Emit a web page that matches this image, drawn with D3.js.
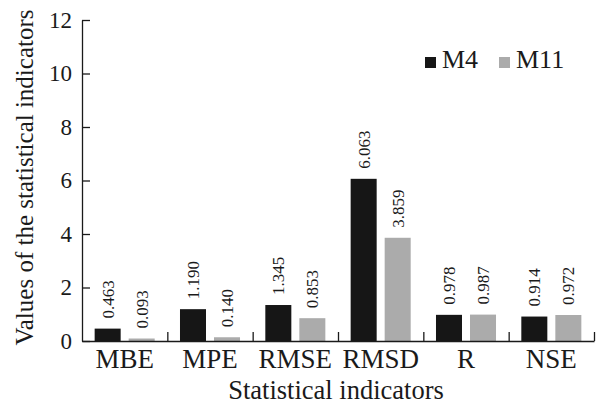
<!DOCTYPE html>
<html>
<head>
<meta charset="utf-8">
<script src="https://cdn.jsdelivr.net/npm/d3@7"></script>
</head>
<body style="margin:0;padding:0;background:#fff">
<svg id="chart" width="597" height="404" style="display:block"></svg>
<script>
const categories = ["MBE", "MPE", "RMSE", "RMSD", "R", "NSE"];
const seriesNames = ["M4", "M11"];
const m4Values = [0.463, 1.190, 1.345, 6.063, 0.978, 0.914];
const m11Values = [0.093, 0.140, 0.853, 3.859, 0.987, 0.972];
const m4Labels = ["0.463", "1.190", "1.345", "6.063", "0.978", "0.914"];
const m11Labels = ["0.093", "0.140", "0.853", "3.859", "0.987", "0.972"];
const yTicks = [0, 2, 4, 6, 8, 10, 12];
const colors = { M4: "#161616", M11: "#ababab" };

(function () {
const FONT = '"Liberation Serif"';
const svg = d3.select("#chart");
const mLeft = 82, mRight = 594, mTop = 20, mBottom = 341;
const ink = "#1a1a1a";

const y = d3.scaleLinear().domain([0, 12]).range([mBottom, mTop]);
const x = d3.scaleBand().domain(categories).range([mLeft, mRight]).paddingInner(0).paddingOuter(0);
const x1 = d3.scaleBand().domain(seriesNames).range([0, x.bandwidth()])
  .paddingInner(8 / 34).paddingOuter(0.372);

const data = categories.map((c, i) => ({
  cat: c,
  vals: [
    { s: "M4", v: m4Values[i], t: m4Labels[i] },
    { s: "M11", v: m11Values[i], t: m11Labels[i] }
  ]
}));

const groups = svg.append("g").selectAll("g").data(data).join("g")
  .attr("transform", d => `translate(${x(d.cat)},0)`);
groups.selectAll("rect").data(d => d.vals).join("rect")
  .attr("x", d => x1(d.s))
  .attr("width", x1.bandwidth())
  .attr("y", d => y(d.v))
  .attr("height", d => y(0) - y(d.v))
  .attr("fill", d => colors[d.s]);

groups.selectAll("text").data(d => d.vals).join("text")
  .attr("transform", d => `translate(${x1(d.s) + x1.bandwidth() / 2},${y(d.v) - 10}) rotate(-90)`)
  .attr("dy", "0.35em")
  .attr("text-anchor", "start")
  .style("font-family", FONT).style("font-size", "17px")
  .attr("fill", ink)
  .text(d => d.t);

const yAxis = d3.axisLeft(y).tickValues(yTicks).tickSizeInner(-8).tickSizeOuter(0).tickPadding(10);
const gy = svg.append("g").attr("transform", `translate(${mLeft},0)`).call(yAxis);
gy.select(".domain").attr("stroke", ink).attr("stroke-width", 1.3);
gy.selectAll(".tick line").attr("stroke", ink).attr("stroke-width", 1.3);
gy.selectAll(".tick text").style("font-family", FONT).style("font-size", "23px").attr("fill", ink);

const xb = d3.scaleLinear().domain([0, categories.length]).range([mLeft, mRight]);
const xAxisB = d3.axisBottom(xb).tickValues(d3.range(1, categories.length + 1))
  .tickSizeInner(-9).tickSizeOuter(0).tickFormat("");
const gx = svg.append("g").attr("transform", `translate(0,${mBottom})`).call(xAxisB);
gx.select(".domain").attr("stroke", ink).attr("stroke-width", 1.3);
gx.selectAll(".tick line").attr("stroke", ink).attr("stroke-width", 1.3);

const xAxisC = d3.axisBottom(x).tickSize(0).tickPadding(8);
const gxc = svg.append("g").attr("transform", `translate(0,${mBottom})`).call(xAxisC);
gxc.select(".domain").remove();
gxc.selectAll(".tick text").style("font-family", FONT).style("font-size", "27px").attr("fill", ink);

svg.append("text")
  .attr("x", (mLeft + mRight) / 2 - 2).attr("y", 399)
  .attr("text-anchor", "middle").style("font-family", FONT).style("font-size", "26.5px").attr("fill", ink)
  .text("Statistical indicators");
svg.append("text")
  .attr("transform", `translate(33,${(10 + 345) / 2}) rotate(-90)`)
  .attr("text-anchor", "middle").style("font-family", FONT).style("font-size", "25px").attr("fill", ink)
  .text("Values of the statistical indicators");

const legendPos = [{ s: "M4", x: 425 }, { s: "M11", x: 499 }];
const lg = svg.append("g").selectAll("g").data(legendPos).join("g")
  .attr("transform", d => `translate(${d.x},57)`);
lg.append("rect").attr("width", 11).attr("height", 11).attr("fill", d => colors[d.s]);
lg.append("text").attr("x", 17).attr("y", 11).style("font-family", FONT).style("font-size", "26px")
  .attr("fill", ink).text(d => d.s);
})();
</script>
</body>
</html>
